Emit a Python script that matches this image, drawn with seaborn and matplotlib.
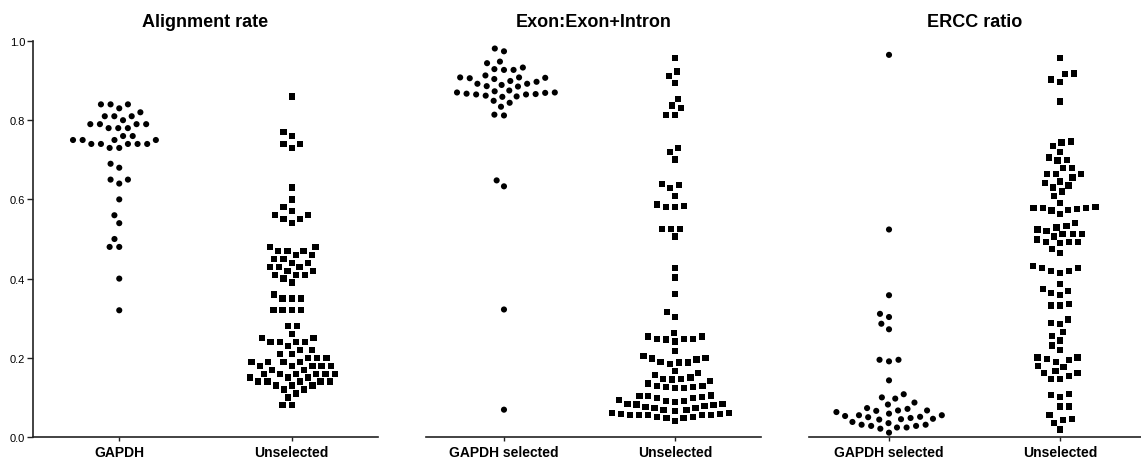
import numpy as np
import pandas as pd
import matplotlib
matplotlib.use("Agg")
import matplotlib.pyplot as plt
import seaborn as sns

# ---- data ---------------------------------------------------------------
panel_titles = ["Alignment rate", "Exon:Exon+Intron", "ERCC ratio"]
panel1_groups = ["GAPDH", "Unselected"]
panel23_groups = ["GAPDH selected", "Unselected"]
y_ticks = [0.0, 0.2, 0.4, 0.6, 0.8, 1.0]

align_gapdh = [0.84, 0.84, 0.84, 0.83, 0.82, 0.81, 0.81, 0.81, 0.80,
               0.79, 0.79, 0.79, 0.79, 0.78, 0.78, 0.78, 0.76, 0.76,
               0.75, 0.75, 0.75, 0.75, 0.74, 0.74, 0.74, 0.74, 0.74,
               0.73, 0.73, 0.69, 0.68, 0.65, 0.65, 0.64, 0.60, 0.56,
               0.54, 0.50, 0.48, 0.48, 0.40, 0.32]

align_unsel = [0.86, 0.77, 0.76, 0.74, 0.74, 0.73,
               0.63, 0.60, 0.58, 0.57, 0.56, 0.56, 0.55, 0.55, 0.54,
               0.48, 0.48, 0.47, 0.47, 0.47, 0.46, 0.46, 0.45, 0.45,
               0.44, 0.44, 0.43, 0.43, 0.43, 0.42, 0.42, 0.41, 0.41,
               0.41, 0.40, 0.39,
               0.36, 0.35, 0.35, 0.35, 0.32, 0.32, 0.32, 0.32,
               0.28, 0.28, 0.26, 0.25, 0.25, 0.24, 0.24, 0.24, 0.24,
               0.23, 0.22, 0.22, 0.21, 0.21, 0.20, 0.20, 0.20,
               0.19, 0.19, 0.19, 0.19, 0.18, 0.18, 0.18, 0.18, 0.18,
               0.17, 0.17, 0.16, 0.16, 0.16, 0.16, 0.16, 0.16,
               0.15, 0.15, 0.15, 0.14, 0.14, 0.14, 0.14, 0.14,
               0.13, 0.13, 0.13, 0.12, 0.12, 0.11, 0.10, 0.08, 0.08]

exon_gapdh = [0.981, 0.974, 0.948, 0.944, 0.933, 0.929, 0.927, 0.927,
              0.913, 0.908, 0.908, 0.907, 0.906, 0.904,
              0.899, 0.897, 0.892, 0.892, 0.889, 0.886, 0.885,
              0.875, 0.873, 0.870, 0.870, 0.869, 0.867, 0.866, 0.865,
              0.865, 0.862, 0.860, 0.859,
              0.849, 0.844, 0.834, 0.814, 0.812,
              0.648, 0.633, 0.322, 0.069]

exon_unsel = [0.958, 0.923, 0.911, 0.894, 0.854, 0.837, 0.831, 0.814,
              0.814, 0.729, 0.719, 0.701,
              0.639, 0.637, 0.628, 0.609, 0.587, 0.584, 0.581, 0.580,
              0.526, 0.526, 0.526, 0.506,
              0.427, 0.403, 0.362, 0.315, 0.303,
              0.263, 0.254, 0.254, 0.248, 0.248, 0.248, 0.246, 0.241,
              0.217, 0.204, 0.200, 0.198, 0.196, 0.189, 0.188, 0.188,
              0.185,
              0.167, 0.162, 0.157, 0.150, 0.147, 0.147, 0.145, 0.141,
              0.135, 0.129, 0.129, 0.126, 0.126, 0.124, 0.124,
              0.105, 0.103, 0.103, 0.101, 0.099, 0.099, 0.093, 0.091,
              0.091, 0.089,
              0.084, 0.084, 0.082, 0.080, 0.078, 0.076, 0.073, 0.073,
              0.069, 0.069, 0.066,
              0.061, 0.061, 0.058, 0.058, 0.056, 0.056, 0.055, 0.055,
              0.055, 0.050, 0.050, 0.048, 0.048, 0.040]

ercc_gapdh = [0.965, 0.524, 0.358, 0.311, 0.303, 0.286, 0.272,
              0.195, 0.195, 0.191, 0.143,
              0.108, 0.100, 0.097, 0.087, 0.082,
              0.073, 0.071, 0.067, 0.067, 0.066, 0.063, 0.059,
              0.055, 0.055, 0.053, 0.051, 0.050, 0.048, 0.046, 0.045,
              0.044, 0.038, 0.035,
              0.031, 0.031, 0.028, 0.028, 0.024, 0.024, 0.021, 0.011]

ercc_unsel = [0.957, 0.918, 0.916, 0.903, 0.897, 0.847,
              0.746, 0.744, 0.735, 0.720, 0.706, 0.700, 0.698,
              0.680, 0.680, 0.665, 0.665, 0.665, 0.655, 0.645,
              0.641, 0.635, 0.630, 0.620, 0.608, 0.591,
              0.580, 0.578, 0.578, 0.578, 0.576, 0.574, 0.572, 0.563,
              0.541, 0.532, 0.529, 0.524, 0.520,
              0.512, 0.512, 0.512, 0.506, 0.499,
              0.492, 0.492, 0.492, 0.490, 0.475, 0.465,
              0.431, 0.426, 0.426, 0.420, 0.420, 0.414,
              0.387, 0.374, 0.368, 0.364, 0.359,
              0.336, 0.332, 0.332, 0.297, 0.288, 0.286,
              0.265, 0.255, 0.244, 0.231, 0.220,
              0.201, 0.201, 0.197, 0.195, 0.189, 0.179, 0.177,
              0.166, 0.161, 0.161, 0.154, 0.147, 0.147,
              0.108, 0.107, 0.101, 0.077, 0.077,
              0.055, 0.045, 0.042, 0.036, 0.019]

panels = [
    (panel_titles[0], panel1_groups, align_gapdh, align_unsel),
    (panel_titles[1], panel23_groups, exon_gapdh, exon_unsel),
    (panel_titles[2], panel23_groups, ercc_gapdh, ercc_unsel),
]

# ---- style --------------------------------------------------------------
sns.set_style("ticks")
plt.rcParams["font.family"] = ["Liberation Sans", "DejaVu Sans"]
plt.rcParams["text.color"] = "black"
plt.rcParams["xtick.color"] = "black"
plt.rcParams["ytick.color"] = "black"
plt.rcParams["axes.edgecolor"] = "black"

fig = plt.figure(figsize=(11.41, 4.60), dpi=100)
W, H = 1141.0, 460.0
# axes boxes in pixels: left, right, x-limits
boxes = [
    (33, 378, (-0.5, 1.5)),
    (426, 761, (-0.456, 1.503)),
    (809, 1141, (-0.468, 1.474)),
]
top_px, bottom_px = 42, 438

for i, ((title, groups, g1, g2), (l, r, xl)) in enumerate(zip(panels, boxes)):
    ax = fig.add_axes([l / W, (H - bottom_px) / H, (r - l) / W,
                       (bottom_px - top_px) / H])
    d1 = pd.DataFrame({"group": groups[0], "value": g1})
    d2 = pd.DataFrame({"group": groups[1], "value": g2})
    # edgecolor none + linewidth leaves a gap between neighbouring dots
    sns.swarmplot(data=d1, x="group", y="value", order=groups, ax=ax,
                  color="black", marker="o", size=4.4, linewidth=2.2,
                  edgecolor="none", warn_thresh=1.0)
    sns.swarmplot(data=d2, x="group", y="value", order=groups, ax=ax,
                  color="black", marker="s", size=4.5, linewidth=1.8,
                  edgecolor="none", warn_thresh=1.0)
    ax.set_xlim(*xl)
    ax.set_ylim(0, 1.0)
    ax.set_xlabel("")
    ax.set_ylabel("")
    ax.set_title(title, fontsize=13, fontweight="bold", pad=11,
                 color="black")
    for lab in ax.get_xticklabels():
        lab.set_fontweight("bold")
        lab.set_fontsize(10)
        lab.set_color("black")
    ax.tick_params(axis="x", length=3, width=1, pad=3, color="#222222")
    sns.despine(ax=ax)
    ax.spines["bottom"].set_linewidth(1.2)
    ax.spines["bottom"].set_color("#222222")
    if i == 0:
        ax.set_yticks(y_ticks)
        ax.set_yticklabels([f"{t:.1f}" for t in y_ticks], fontsize=8,
                           color="black")
        ax.tick_params(axis="y", length=4, width=1, pad=1.5,
                       color="#222222")
        ax.spines["left"].set_linewidth(1.2)
        ax.spines["left"].set_color("#222222")
    else:
        ax.spines["left"].set_visible(False)
        ax.set_yticks([])

fig.savefig("out.png", dpi=100, facecolor="white")
